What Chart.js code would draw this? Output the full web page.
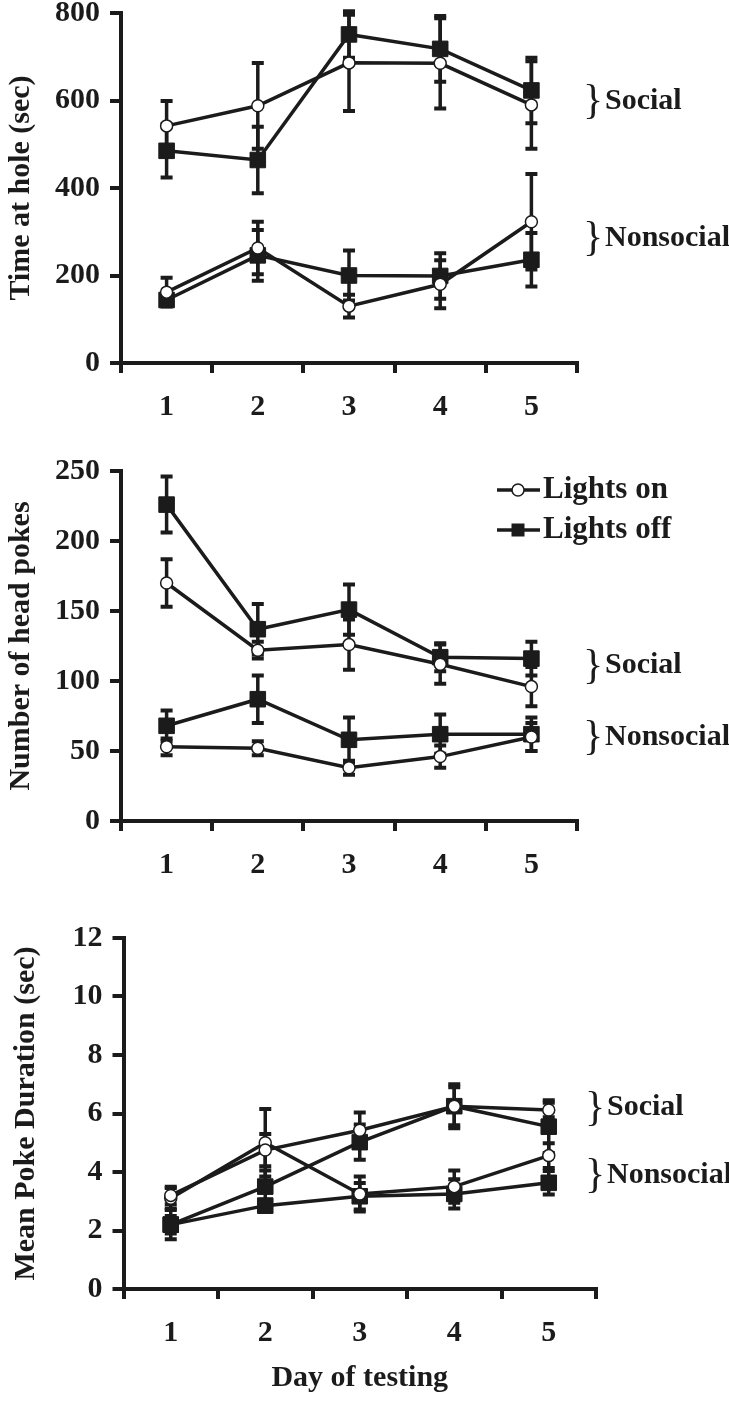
<!DOCTYPE html>
<html lang="en">
<head>
<meta charset="utf-8">
<title>Head poke testing</title>
<style>
  html, body { margin: 0; background: #fff; overflow: hidden; }
  .panel { position: absolute; left: 0; }
</style>
</head>
<body>
<div class="panel" style="top:-15px"><canvas id="holeChart" width="729" height="435"></canvas></div>
<div class="panel" style="top:443px"><canvas id="pokeChart" width="729" height="435"></canvas></div>
<div class="panel" style="top:910px"><canvas id="durChart" width="729" height="491"></canvas></div>

<script src="https://cdn.jsdelivr.net/npm/chart.js"></script>
<script>
// days on the x axis
var days = ["1", "2", "3", "4", "5"];
var groupNames = ["Social", "Nonsocial"];

// time at hole (sec), means and SE
var holeSocialOn = [542, 588, 686, 685, 590];
var holeSocialOnSE = [57, 98, 110, 103, 100];
var holeSocialOff = [485, 464, 751, 718, 623];
var holeSocialOffSE = [61, 76, 53, 75, 75];
var holeNonOn = [162, 263, 130, 180, 323];
var holeNonOnSE = [33, 60, 26, 55, 109];
var holeNonOff = [144, 246, 200, 199, 236];
var holeNonOffSE = [12, 58, 57, 52, 61];

// number of head pokes
var pokeSocialOn = [170, 122, 126, 112, 96];
var pokeSocialOnSE = [17, 6, 18, 14, 14];
var pokeSocialOff = [226, 137, 151, 117, 116];
var pokeSocialOffSE = [20, 18, 18, 10, 12];
var pokeNonOn = [53, 52, 38, 46, 60];
var pokeNonOnSE = [6, 5, 5, 8, 10];
var pokeNonOff = [68, 87, 58, 62, 62];
var pokeNonOffSE = [11, 17, 16, 14, 12];

// mean poke duration (sec)
var durSocialOn = [3.2, 4.75, 5.43, 6.25, 6.12];
var durSocialOnSE = [0.3, 0.55, 0.6, 0.65, 0.25];
var durSocialOff = [2.2, 3.5, 5.02, 6.25, 5.55];
var durSocialOffSE = [0.5, 0.55, 0.6, 0.75, 0.9];
var durNonOn = [3.1, 5.0, 3.25, 3.5, 4.56];
var durNonOnSE = [0.35, 1.15, 0.6, 0.55, 0.42];
var durNonOff = [2.2, 2.85, 3.17, 3.25, 3.63];
var durNonOffSE = [0.3, 0.2, 0.45, 0.5, 0.4];

var ink = "#1b1b1b";
var serif = "'Liberation Serif', 'Times New Roman', serif";

Chart.defaults.font.family = serif;
Chart.defaults.font.weight = "bold";
Chart.defaults.color = ink;

// vertical SE bars with caps, drawn under the lines
var errorBars = {
  id: "errorBars",
  beforeDatasetsDraw: function (chart) {
    var ctx = chart.ctx;
    var y = chart.scales.y;
    ctx.save();
    ctx.strokeStyle = ink;
    chart.data.datasets.forEach(function (ds, i) {
      chart.getDatasetMeta(i).data.forEach(function (pt, j) {
        var hi = y.getPixelForValue(ds.data[j] + ds.errors[j]);
        var lo = y.getPixelForValue(ds.data[j] - ds.errors[j]);
        ctx.lineWidth = 3.5;
        ctx.beginPath();
        ctx.moveTo(pt.x, hi);
        ctx.lineTo(pt.x, lo);
        ctx.stroke();
        ctx.lineWidth = 4;
        ctx.beginPath();
        ctx.moveTo(pt.x - 6, hi);
        ctx.lineTo(pt.x + 6, hi);
        ctx.moveTo(pt.x - 6, lo);
        ctx.lineTo(pt.x + 6, lo);
        ctx.stroke();
      });
    });
    ctx.restore();
  }
};

// "} Social" / "} Nonsocial" notes and the legend of the middle panel
var sideNotes = {
  id: "sideNotes",
  afterDraw: function (chart, args, opts) {
    var ctx = chart.ctx;
    var y = chart.scales.y;
    ctx.save();
    ctx.fillStyle = ink;
    ctx.strokeStyle = ink;
    ctx.textBaseline = "middle";
    (opts.groups || []).forEach(function (at, k) {
      var py = y.getPixelForValue(at);
      ctx.font = "normal 42px " + serif;
      ctx.fillText("}", opts.x, py + 1);
      ctx.font = "bold 30px " + serif;
      ctx.fillText(groupNames[k], opts.x + 22, py);
    });
    if (opts.legend) {
      var lg = opts.legend;
      [0, 1].forEach(function (i) {
        var ds = chart.data.datasets[i];
        var ly = lg.y + i * 40;
        ctx.lineWidth = 3.5;
        ctx.beginPath();
        ctx.moveTo(lg.x, ly);
        ctx.lineTo(lg.x + 43, ly);
        ctx.stroke();
        var cx = lg.x + 21;
        if (ds.pointStyle === "rect") {
          ctx.fillRect(cx - 6.5, ly - 6.5, 13, 13);
        } else {
          ctx.beginPath();
          ctx.arc(cx, ly, 6, 0, Math.PI * 2);
          ctx.fillStyle = "#fff";
          ctx.fill();
          ctx.lineWidth = 1.5;
          ctx.stroke();
          ctx.fillStyle = ink;
        }
        ctx.font = "bold 31px " + serif;
        ctx.fillText(ds.label, lg.x + 46, ly);
      });
    }
    ctx.restore();
  }
};

function series(label, data, errors, filled) {
  return {
    label: label,
    data: data,
    errors: errors,
    borderColor: ink,
    borderWidth: 3.5,
    tension: 0,
    pointStyle: filled ? "rect" : "circle",
    pointRadius: filled ? 11 : 6,
    pointBorderWidth: filled ? 1 : 1.5,
    pointBorderColor: ink,
    pointBackgroundColor: filled ? ink : "#fff"
  };
}

function makePanel(id, p) {
  return new Chart(document.getElementById(id), {
    type: "line",
    data: {
      labels: days,
      datasets: [
        series("Lights on", p.socialOn[0], p.socialOn[1], false),
        series("Lights off", p.socialOff[0], p.socialOff[1], true),
        series("Lights on", p.nonOn[0], p.nonOn[1], false),
        series("Lights off", p.nonOff[0], p.nonOff[1], true)
      ]
    },
    options: {
      responsive: false,
      animation: false,
      layout: { padding: { top: 27, left: 0, right: p.right, bottom: 0 } },
      plugins: {
        legend: { display: false },
        tooltip: { enabled: false },
        sideNotes: { groups: p.groups, x: p.noteX, legend: p.legend }
      },
      scales: {
        x: {
          offset: true,
          grid: { offset: true, drawOnChartArea: false, tickLength: 10, color: ink, lineWidth: 4 },
          border: { color: ink, width: 4 },
          ticks: { font: { size: 30 }, padding: 16 },
          title: { display: !!p.xTitle, text: p.xTitle, font: { size: 30 }, padding: { top: 0, bottom: 5 } },
          afterFit: function (s) { s.height = p.xHeight; }
        },
        y: {
          min: 0,
          max: p.max,
          ticks: { stepSize: p.step, font: { size: 30 }, padding: 10 },
          grid: { drawOnChartArea: false, tickLength: 11, color: ink, lineWidth: 4 },
          border: { color: ink, width: 4 },
          title: { display: true, text: p.yTitle, font: { size: 30 }, padding: { top: p.titlePad, bottom: 0 } },
          afterFit: function (s) { s.width = p.yWidth; }
        }
      }
    },
    plugins: [errorBars, sideNotes]
  });
}

makePanel("holeChart", {
  socialOn: [holeSocialOn, holeSocialOnSE],
  socialOff: [holeSocialOff, holeSocialOffSE],
  nonOn: [holeNonOn, holeNonOnSE],
  nonOff: [holeNonOff, holeNonOffSE],
  max: 800, step: 200, yTitle: "Time at hole (sec)",
  yWidth: 121, right: 152, xHeight: 57, titlePad: 3,
  groups: [599, 285], noteX: 583
});

makePanel("pokeChart", {
  socialOn: [pokeSocialOn, pokeSocialOnSE],
  socialOff: [pokeSocialOff, pokeSocialOffSE],
  nonOn: [pokeNonOn, pokeNonOnSE],
  nonOff: [pokeNonOff, pokeNonOffSE],
  max: 250, step: 50, yTitle: "Number of head pokes",
  yWidth: 121, right: 152, xHeight: 57, titlePad: 3,
  groups: [111, 60], noteX: 583,
  legend: { x: 497, y: 47 }
});

makePanel("durChart", {
  socialOn: [durSocialOn, durSocialOnSE],
  socialOff: [durSocialOff, durSocialOffSE],
  nonOn: [durNonOn, durNonOnSE],
  nonOff: [durNonOff, durNonOffSE],
  max: 12, step: 2, yTitle: "Mean Poke Duration (sec)", xTitle: "Day of testing",
  yWidth: 123.5, right: 133, xHeight: 112, titlePad: 8,
  groups: [6.2, 3.9], noteX: 585
});
</script>
</body>
</html>
